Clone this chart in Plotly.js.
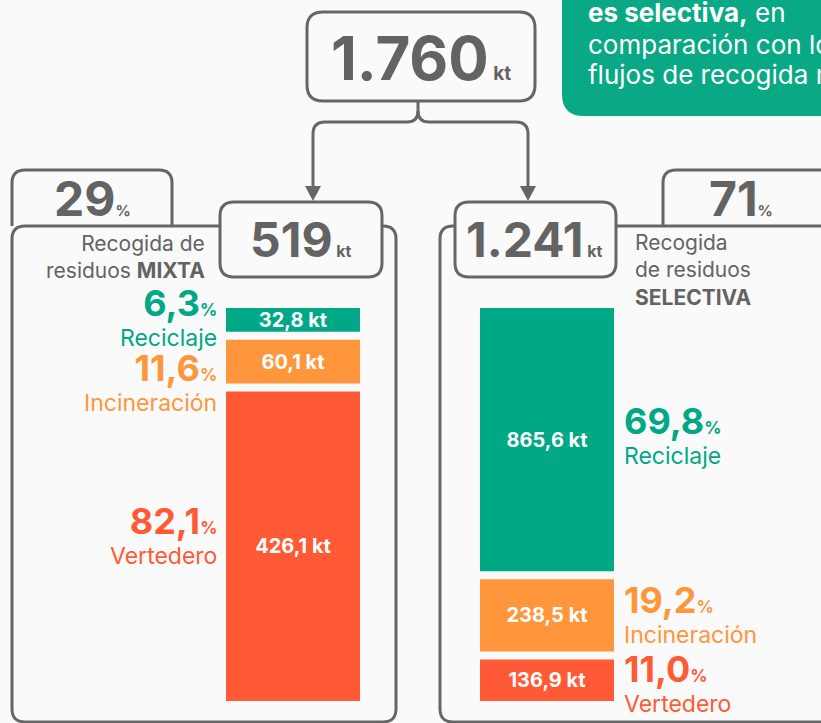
<!DOCTYPE html>
<html>
<head>
<meta charset="utf-8">
<script src="https://cdn.plot.ly/plotly-3.0.1.min.js"></script>
<style>html,body{margin:0;padding:0;background:#fafafa;}</style>
</head>
<body>
<div id="chart" style="width:821px;height:723px;"></div>
<script>
// ---- data ----
const categories = ['Reciclaje', 'Incineración', 'Vertedero'];
const mixtaKt = [32.8, 60.1, 426.1];
const mixtaPct = [6.3, 11.6, 82.1];
const selectivaKt = [865.6, 238.5, 136.9];
const selectivaPct = [69.8, 19.2, 11.0];
const totalKt = '1.760';
const mixtaTotal = '519';
const selectivaTotal = '1.241';
const mixtaShare = '29';
const selectivaShare = '71';
const noteLines = ['<b>es selectiva,</b> en', 'comparación con los', 'flujos de recogida mixta'];

// ---- styling ----
const W = 821, H = 723;
const GRAY = '#666666';
const TXT = '#636363';
const catColors = ['#00a886', '#ff963c', '#ff5a35'];
const BG = '#fafafa';
const FONT = 'Inter, "Noto Sans", sans-serif';
const GAP = 2.12; // gap between stacked blocks, in % units

function px(x) { return (x / W).toFixed(5); }
function py(y) { return (1 - y / H).toFixed(5); }
function P(x, y) { return px(x) + ',' + py(y); }
function rrect(x0, y0, x1, y1, r) {
  return 'M ' + P(x0 + r, y0) + ' L ' + P(x1 - r, y0) + ' Q ' + P(x1, y0) + ' ' + P(x1, y0 + r) +
    ' L ' + P(x1, y1 - r) + ' Q ' + P(x1, y1) + ' ' + P(x1 - r, y1) +
    ' L ' + P(x0 + r, y1) + ' Q ' + P(x0, y1) + ' ' + P(x0, y1 - r) +
    ' L ' + P(x0, y0 + r) + ' Q ' + P(x0, y0) + ' ' + P(x0 + r, y0) + ' Z';
}
function fmt(v) { return v.toFixed(1).replace('.', ','); }
function bases(p) { const b = []; let s = 0; p.forEach((v, i) => { b.push(s + i * GAP); s += v; }); return b; }

function barTrace(pct, kt, xa, ya) {
  return {
    type: 'bar', x: pct.map(() => 0), y: pct, base: bases(pct),
    xaxis: xa, yaxis: ya, width: 1,
    marker: { color: catColors, line: { width: 0 } },
    text: kt.map(v => '<b>' + fmt(v) + ' kt</b>'),
    textposition: 'inside', insidetextanchor: 'middle', constraintext: 'none',
    textfont: { color: '#ffffff', size: 20, family: FONT },
    hoverinfo: 'skip', showlegend: false
  };
}

const traces = [
  barTrace(mixtaPct, mixtaKt, 'x', 'y'),
  barTrace(selectivaPct, selectivaKt, 'x2', 'y2')
];

const yTop = 308, yBot = 701;
const yDom = [1 - yBot / H, 1 - yTop / H];
const yRange = [100 + 2 * GAP, 0];
const hidden = { showgrid: false, zeroline: false, showticklabels: false, showline: false, ticks: '', fixedrange: true };

const lineS = { color: GRAY, width: 3 };
const shapes = [
  // green note box
  { type: 'path', xref: 'paper', yref: 'paper', layer: 'below',
    path: 'M ' + P(562, -10) + ' L ' + P(830, -10) + ' L ' + P(830, 116) + ' L ' + P(584, 116) + ' Q ' + P(562, 116) + ' ' + P(562, 94) + ' Z',
    fillcolor: '#0aa986', line: { width: 0 } },
  // left panel
  { type: 'path', xref: 'paper', yref: 'paper', path: rrect(12, 226, 396, 722, 13), line: lineS, fillcolor: 'rgba(0,0,0,0)' },
  { type: 'path', xref: 'paper', yref: 'paper',
    path: 'M ' + P(12, 226) + ' L ' + P(12, 183) + ' Q ' + P(12, 170) + ' ' + P(25, 170) + ' L ' + P(159, 170) + ' Q ' + P(172, 170) + ' ' + P(172, 183) + ' L ' + P(172, 226),
    line: lineS, fillcolor: 'rgba(0,0,0,0)' },
  { type: 'path', xref: 'paper', yref: 'paper', path: rrect(220, 202, 382, 277, 14), line: lineS, fillcolor: BG },
  // right panel
  { type: 'path', xref: 'paper', yref: 'paper', path: rrect(440, 226, 850, 722, 13), line: lineS, fillcolor: 'rgba(0,0,0,0)' },
  { type: 'path', xref: 'paper', yref: 'paper',
    path: 'M ' + P(663, 226) + ' L ' + P(663, 183) + ' Q ' + P(663, 170) + ' ' + P(676, 170) + ' L ' + P(850, 170),
    line: lineS, fillcolor: 'rgba(0,0,0,0)' },
  { type: 'path', xref: 'paper', yref: 'paper', path: rrect(455, 202, 616, 277, 14), line: lineS, fillcolor: BG },
  // top total box
  { type: 'path', xref: 'paper', yref: 'paper', path: rrect(307, 12, 535, 101, 16), line: lineS, fillcolor: BG },
  // bracket
  { type: 'path', xref: 'paper', yref: 'paper',
    path: 'M ' + P(418, 101) + ' L ' + P(418, 111) + ' Q ' + P(418, 122) + ' ' + P(407, 122) + ' L ' + P(325, 122) + ' Q ' + P(313, 122) + ' ' + P(313, 134) + ' L ' + P(313, 188),
    line: lineS, fillcolor: 'rgba(0,0,0,0)' },
  { type: 'path', xref: 'paper', yref: 'paper',
    path: 'M ' + P(418, 111) + ' Q ' + P(418, 122) + ' ' + P(429, 122) + ' L ' + P(516, 122) + ' Q ' + P(528, 122) + ' ' + P(528, 134) + ' L ' + P(528, 188),
    line: lineS, fillcolor: 'rgba(0,0,0,0)' },
  // arrowheads
  { type: 'path', xref: 'paper', yref: 'paper', path: 'M ' + P(305, 186) + ' L ' + P(321, 186) + ' L ' + P(313, 201) + ' Z', fillcolor: GRAY, line: { width: 0 } },
  { type: 'path', xref: 'paper', yref: 'paper', path: 'M ' + P(520, 186) + ' L ' + P(536, 186) + ' L ' + P(528, 201) + ' Z', fillcolor: GRAY, line: { width: 0 } }
];

function ann(text, x, y, xanchor, size, color, align) {
  return { text: text, x: +px(x), y: +py(y), xref: 'paper', yref: 'paper', xanchor: xanchor, yanchor: 'middle',
    showarrow: false, align: align || 'center', font: { family: FONT, size: size, color: color } };
}
function big(num, unit, smallSize, sep) {
  return '<b>' + num + '</b><span style="font-size:' + smallSize + 'px"><b>' + sep + unit + '</b></span>';
}
function catTxt(v, cat) {
  return '<span style="font-size:36px"><b>' + fmt(v) + '</b></span><span style="font-size:17px"><b>%</b></span><br>' + cat;
}

const annotations = [
  ann(noteLines[0], 586, 13, 'left', 26, '#ffffff', 'left'),
  ann(noteLines[1], 586, 44, 'left', 26, '#ffffff', 'left'),
  ann(noteLines[2], 586, 75, 'left', 26, '#ffffff', 'left'),
  ann(big(totalKt, 'kt', 19, ' '), 421, 58, 'center', 60, TXT),
  ann(big(mixtaShare, '%', 15, ''), 92, 199, 'center', 48, TXT),
  ann(big(selectivaShare, '%', 15, ''), 741, 198, 'center', 48, TXT),
  ann(big(mixtaTotal, 'kt', 16, ' '), 301, 240, 'center', 48, TXT),
  ann(big(selectivaTotal, 'kt', 16, ' '), 535, 240, 'center', 48, TXT),
  ann('Recogida de<br>residuos <b>MIXTA</b>', 207, 257, 'right', 21, TXT, 'right'),
  ann('Recogida<br>de residuos<br><b>SELECTIVA</b>', 633, 270, 'left', 21, TXT, 'left')
];

// category labels: percentage + name, centered on the percentage baseline
const leftLblY = [316, 382, 535];
const rightLblY = [434, 613, 683];
categories.forEach((c, i) => {
  annotations.push(ann(catTxt(mixtaPct[i], c), 219, leftLblY[i], 'right', 23, catColors[i], 'right'));
  annotations.push(ann(catTxt(selectivaPct[i], c), 622, rightLblY[i], 'left', 23, catColors[i], 'left'));
});

const layout = {
  width: W, height: H,
  margin: { l: 0, r: 0, t: 0, b: 0 },
  paper_bgcolor: BG, plot_bgcolor: 'rgba(0,0,0,0)',
  barmode: 'overlay', showlegend: false,
  font: { family: FONT, color: TXT },
  xaxis: Object.assign({ domain: [226 / W, 360 / W], range: [-0.5, 0.5], anchor: 'y' }, hidden),
  yaxis: Object.assign({ domain: yDom, range: yRange, anchor: 'x' }, hidden),
  xaxis2: Object.assign({ domain: [480 / W, 614 / W], range: [-0.5, 0.5], anchor: 'y2' }, hidden),
  yaxis2: Object.assign({ domain: yDom, range: yRange, anchor: 'x2' }, hidden),
  shapes: shapes,
  annotations: annotations
};

Plotly.newPlot('chart', traces, layout, { displayModeBar: false, staticPlot: true });
</script>
</body>
</html>
